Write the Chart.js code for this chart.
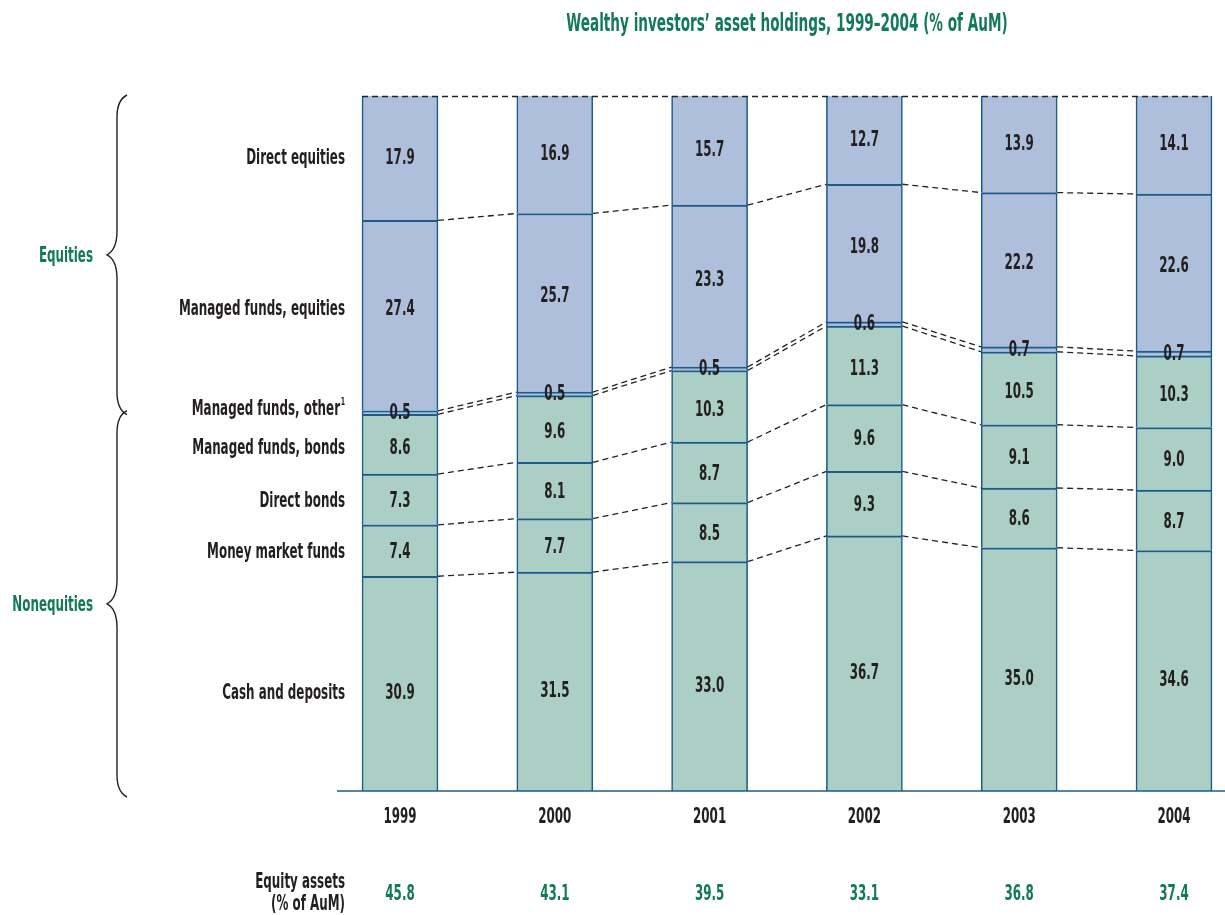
<!DOCTYPE html>
<html>
<head>
<meta charset="utf-8">
<script src="https://cdn.jsdelivr.net/npm/chart.js@4.4.1/dist/chart.umd.min.js"></script>
<style>
	body { margin: 0; background: #ffffff; }
	#wrap { width: 1225px; height: 915px; }
</style>
</head>
<body>
<div id="wrap"><canvas id="holdings" width="1225" height="915"></canvas></div>
<script>
// asset mix per year, % of AuM, stacked bottom (cash) to top (direct equities)
const years = ["1999", "2000", "2001", "2002", "2003", "2004"];
const cashDeposits = [30.9, 31.5, 33.0, 36.7, 35.0, 34.6];
const moneyMarket = [7.4, 7.7, 8.5, 9.3, 8.6, 8.7];
const directBonds = [7.3, 8.1, 8.7, 9.6, 9.1, 9.0];
const managedBonds = [8.6, 9.6, 10.3, 11.3, 10.5, 10.3];
const managedOther = [0.5, 0.5, 0.5, 0.6, 0.7, 0.7];
const managedEquities = [27.4, 25.7, 23.3, 19.8, 22.2, 22.6];
const directEquities = [17.9, 16.9, 15.7, 12.7, 13.9, 14.1];
const equityAssets = [45.8, 43.1, 39.5, 33.1, 36.8, 37.4];
const seriesNames = ["Cash and deposits", "Money market funds", "Direct bonds",
	"Managed funds, bonds", "Managed funds, other", "Managed funds, equities", "Direct equities"];

const EQ_FILL = "#adbfda";
const NONEQ_FILL = "#abcfc4";
const EDGE = "#1b5c8c";
const GREEN = "#12795a";
const INK = "#231f20";
const FAMILY = "'Liberation Sans Narrow', 'DejaVu Sans Condensed', sans-serif";
const FONT = "bold 21px " + FAMILY;
const TITLE_FONT = "bold 24px " + FAMILY;
let squeeze = 0.7;

const seriesData = [cashDeposits, moneyMarket, directBonds, managedBonds, managedOther, managedEquities, directEquities];

function makeDataset(i)
{
	const isEquity = i >= 4;
	const isTop = i == seriesData.length - 1;
	return {
		label: seriesNames[i],
		data: seriesData[i],
		backgroundColor: isEquity ? EQ_FILL : NONEQ_FILL,
		borderColor: EDGE,
		borderWidth: { top: isTop ? 0 : 2, left: 1.6, right: 1.6, bottom: 0 },
		borderSkipped: false,
		barThickness: 76,
		clip: false
	};
}

function text(ctx, s, x, y, align, color, font)
{
	ctx.save();
	ctx.translate(x, y);
	ctx.scale(squeeze, 1);
	ctx.font = font || FONT;
	ctx.fillStyle = color;
	ctx.textAlign = align;
	ctx.textBaseline = "middle";
	ctx.fillText(s, 0, 0);
	ctx.restore();
}

function brace(ctx, yTop, yBot)
{
	const xEnd = 127, xMid = 117, xTip = 107;
	const yMid = (yTop + yBot) / 2;
	ctx.beginPath();
	ctx.moveTo(xEnd, yTop);
	ctx.bezierCurveTo(119, yTop + 4, xMid, yTop + 12, xMid, yTop + 22);
	ctx.lineTo(xMid, yMid - 24);
	ctx.bezierCurveTo(xMid, yMid - 10, 113, yMid - 3, xTip, yMid);
	ctx.bezierCurveTo(113, yMid + 3, xMid, yMid + 10, xMid, yMid + 24);
	ctx.lineTo(xMid, yBot - 22);
	ctx.bezierCurveTo(xMid, yBot - 12, 119, yBot - 4, xEnd, yBot);
	ctx.stroke();
}

// labels, connectors, braces and the footer row
const decorations =
{
	id: "decorations",
	afterDatasetsDraw(chart)
	{
		const ctx = chart.ctx;
		const yScale = chart.scales.y;
		const xScale = chart.scales.x;
		const metas = chart.data.datasets.map((d, i) => chart.getDatasetMeta(i));
		const n = years.length;

		// whichever condensed face is found, squeeze it to the narrow book style
		ctx.save();
		ctx.font = FONT;
		squeeze = 166 / ctx.measureText("Managed funds, equities").width;
		ctx.restore();

		// dashed connectors between neighbouring bars at every segment boundary
		ctx.save();
		ctx.strokeStyle = "#222222";
		ctx.lineWidth = 1.3;
		ctx.setLineDash([6, 4]);
		for (let d = 0; d < metas.length - 1; d++)
		{
			for (let i = 0; i < n - 1; i++)
			{
				const a = metas[d].data[i], b = metas[d].data[i + 1];
				ctx.beginPath();
				ctx.moveTo(a.x + a.width / 2, a.y);
				ctx.lineTo(b.x - b.width / 2, b.y);
				ctx.stroke();
			}
		}
		const top = metas[metas.length - 1];
		const yTopLine = Math.round(top.data[0].y) + 0.5;
		ctx.beginPath();
		ctx.moveTo(top.data[0].x - top.data[0].width / 2, yTopLine);
		ctx.lineTo(top.data[n - 1].x + top.data[n - 1].width / 2, yTopLine);
		ctx.stroke();
		ctx.restore();

		// base line
		const y0 = yScale.getPixelForValue(0);
		ctx.save();
		ctx.strokeStyle = EDGE;
		ctx.lineWidth = 1.6;
		ctx.beginPath();
		ctx.moveTo(337, y0);
		ctx.lineTo(1225, y0);
		ctx.stroke();
		ctx.restore();

		// segment values and row names
		const shift = [10, 2, 2, 4, 1, -6, 0];
		for (let d = 0; d < metas.length; d++)
		{
			for (let i = 0; i < n; i++)
			{
				const el = metas[d].data[i];
				const cy = (el.y + el.base) / 2 + shift[d];
				text(ctx, seriesData[d][i].toFixed(1), el.x, cy, "center", INK);
			}
			const first = metas[d].data[0];
			const ly = (first.y + first.base) / 2 + shift[d];
			if (d == 4)
			{
				text(ctx, seriesNames[d], 340, ly - 4, "right", INK);
				text(ctx, "1", 343, ly - 11, "center", INK, "bold 11px " + FAMILY);
			}
			else
				text(ctx, seriesNames[d], 345, ly, "right", INK);
		}

		// years and equity share row
		for (let i = 0; i < n; i++)
		{
			const x = xScale.getPixelForValue(i);
			text(ctx, years[i], x, y0 + 27, "center", INK);
			text(ctx, equityAssets[i].toFixed(1), x, y0 + 104, "center", GREEN);
		}
		text(ctx, "Equity assets", 345, y0 + 92, "right", INK);
		text(ctx, "(% of AuM)", 345, y0 + 114, "right", INK);

		// title
		text(ctx, "Wealthy investors\u2019 asset holdings, 1999\u20132004 (% of AuM)", 787, 25, "center", GREEN, TITLE_FONT);

		// group braces
		const yTop = yScale.getPixelForValue(100) - 1;
		const split = (metas[3].data[0].y + metas[4].data[0].y) / 2 + 1;
		ctx.save();
		ctx.strokeStyle = "#222222";
		ctx.lineWidth = 1.4;
		brace(ctx, yTop, split + 1);
		brace(ctx, split - 3, y0 + 6);
		ctx.restore();
		text(ctx, "Equities", 93, (yTop + split + 1) / 2 + 2, "right", GREEN);
		text(ctx, "Nonequities", 93, (split - 3 + y0 + 6) / 2 + 2, "right", GREEN);
	}
};

new Chart(document.getElementById("holdings").getContext("2d"),
{
	type: "bar",
	data:
	{
		labels: years,
		datasets: seriesData.map((s, i) => makeDataset(i))
	},
	options:
	{
		responsive: false,
		animation: false,
		devicePixelRatio: 1,
		layout: { padding: { left: 400, right: 51, top: 96, bottom: 124 } },
		plugins:
		{
			legend: { display: false },
			tooltip: { enabled: false },
			title: { display: false }
		},
		scales:
		{
			x: { type: "category", offset: false, stacked: true, display: false },
			y: { stacked: true, min: 0, max: 100, display: false }
		}
	},
	plugins: [decorations]
});
</script>
</body>
</html>
